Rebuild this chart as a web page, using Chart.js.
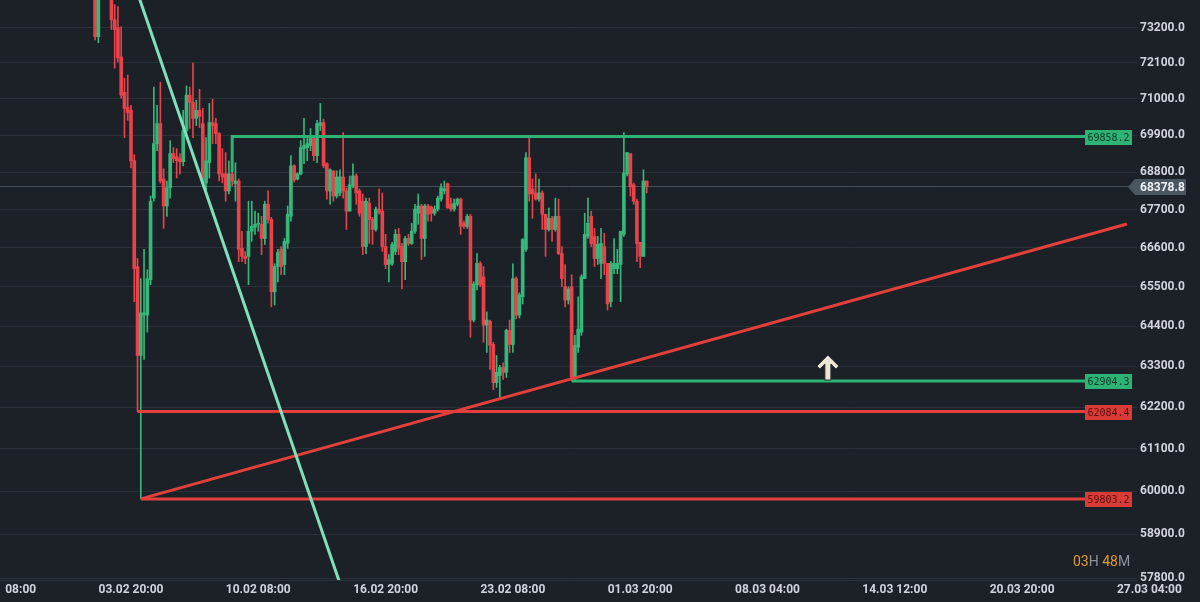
<!DOCTYPE html>
<html>
<head>
<meta charset="utf-8">
<script src="https://cdn.jsdelivr.net/npm/chart.js@4.4.1/dist/chart.umd.min.js"></script>
<style>
  html, body { margin: 0; padding: 0; background: #1b2126; }
  #wrap { width: 1200px; height: 602px; }
</style>
</head>
<body>
<div id="wrap"><canvas id="chart" width="1200" height="602"></canvas></div>
<script>
// === Datos: velas de 4h (índice 0 = 03.02 20:00) ===
const firstIndex = -11;

const opens = [
  74350, 72920, 74250, 74700, 74500, 74350, 73450, 73200, 72290, 71200,
  70740, 70650, 69140, 66070, 63600, 64710, 64710, 65700, 68040, 69650,
  70250, 68600, 67810, 68340, 69350, 69260, 69200, 69110, 70040, 71110,
  70890, 70410, 70650, 70250, 68480, 69080, 70280, 70250, 69950, 68750,
  68750, 68250, 68750, 68460, 68540, 66590, 66360, 66360, 67080, 67190,
  67280, 67280, 66870, 67860, 67420, 65360, 66070, 66560, 66130, 66730,
  67510, 68990, 68600, 68750, 69500, 69530, 69590, 69800, 69290, 70190,
  70280, 69050, 68250, 68840, 68100, 68190, 68660, 68250, 67660, 68400,
  68690, 68250, 67950, 66640, 67890, 67420, 67130, 67720, 67660, 66640,
  66130, 66160, 66500, 66990, 66640, 66210, 66870, 66730, 67080, 67600,
  67810, 66870, 67810, 67780, 67600, 67720, 68010, 68250, 68460, 67860,
  67720, 67860, 68010, 67310, 67220, 67510, 64570, 65550, 66160, 65780,
  64430, 64540, 63900, 62860, 63050, 63270, 63140, 64290, 63900, 65730,
  64710, 65220, 66560, 69230, 68310, 68190, 68010, 68190, 67570, 67130,
  67450, 67130, 67510, 66440, 65500, 65130, 65500, 63000, 63820, 64240,
  65730, 66930, 67510, 66930, 66300, 66160, 66640, 66160, 65080, 66010,
  66010, 66130, 66990, 68750, 69350, 68430, 67950, 66760, 66360, 68540
];
const highs = [
  74570, 74480, 74900, 75000, 74800, 74410, 73930, 73870, 73230, 71630,
  71730, 70800, 69320, 66300, 65730, 66560, 65980, 68100, 71360, 70800,
  71510, 68900, 68540, 69740, 69530, 69500, 69350, 70650, 71390, 71360,
  72100, 70960, 71290, 70710, 69830, 70860, 70990, 70410, 69980, 69500,
  69380, 69140, 68990, 69080, 68600, 67080, 66500, 67950, 67950, 67660,
  67600, 67510, 67950, 68250, 67480, 66150, 66560, 66640, 66870, 67810,
  69290, 69020, 68780, 69740, 70410, 69830, 70100, 69830, 70350, 70860,
  70380, 69080, 68900, 68840, 68840, 68870, 69980, 68340, 68690, 69050,
  68750, 68310, 68160, 68040, 68040, 67480, 67780, 68310, 68190, 66990,
  66410, 66760, 67130, 67160, 66730, 66930, 66990, 67310, 67860, 68160,
  67860, 67860, 67860, 67810, 67810, 68100, 68460, 68540, 68480, 68040,
  68010, 68040, 68040, 67370, 67570, 67570, 65640, 66440, 66210, 66070,
  64800, 64570, 63960, 63600, 63330, 63400, 64320, 64570, 66150, 65780,
  65330, 66870, 69380, 69890, 68600, 68750, 68600, 68250, 67570, 67750,
  67510, 68040, 68010, 66640, 66130, 65500, 65840, 64150, 65220, 65840,
  67600, 68040, 67660, 67160, 66930, 67160, 67020, 66160, 66210, 66870,
  66560, 67080, 69980, 69380, 69350, 68480, 68010, 66760, 68870, 68540
];
const lows = [
  72820, 72730, 74100, 74300, 74200, 73140, 71940, 72130, 71020, 69830,
  70350, 68930, 65080, 62084.4, 59803.2, 63490, 64240, 65560, 67950, 69440,
  68480, 67160, 67510, 68040, 69080, 68630, 68750, 68990, 70010, 70100,
  69830, 70190, 70130, 68450, 68190, 68630, 69650, 69650, 68540, 68480,
  67950, 68160, 68400, 67950, 66210, 66210, 66150, 65560, 66790, 66990,
  67080, 66410, 66700, 67310, 64940, 64990, 65640, 65840, 65840, 66590,
  67370, 68510, 68570, 68720, 69050, 69140, 69440, 69140, 69080, 70040,
  68930, 68010, 67860, 67950, 68040, 68100, 68040, 67130, 67660, 68340,
  67860, 67510, 66410, 66440, 66730, 66700, 67080, 67570, 66500, 66010,
  65640, 66100, 66410, 66410, 65440, 65700, 66670, 66700, 67020, 67280,
  66270, 66360, 67370, 67370, 67540, 67660, 67950, 68160, 67750, 67660,
  67660, 67810, 66990, 67160, 67160, 64100, 64520, 65410, 65500, 63960,
  63680, 63220, 62670, 62730, 62430, 62950, 63000, 63680, 63680, 64600,
  64630, 65020, 66500, 67950, 67450, 67980, 67950, 67130, 66360, 67080,
  66790, 67080, 66410, 65500, 64940, 65020, 62904.3, 62920, 63680, 64150,
  65730, 66870, 66640, 66070, 66130, 65730, 65840, 64850, 64940, 65870,
  65870, 65080, 66930, 68690, 68100, 67860, 66210, 66040, 66360, 68190
];
const closes = [
  72920, 74250, 74700, 74500, 74350, 73450, 73140, 72260, 71110, 70710,
  70590, 69140, 66010, 63600, 64770, 64770, 65730, 67950, 69650, 70250,
  68540, 67810, 68340, 69350, 69200, 69140, 69110, 70040, 71110, 70890,
  70410, 70650, 70470, 68480, 69140, 70280, 70190, 69950, 68750, 68660,
  68250, 68750, 68540, 68540, 66560, 66360, 66300, 67080, 67220, 67280,
  67300, 66870, 67860, 67420, 65360, 66070, 66470, 66070, 66790, 67570,
  68990, 68570, 68750, 69530, 69590, 69650, 69830, 69290, 70250, 70280,
  68990, 68250, 68870, 68100, 68660, 68660, 68250, 67660, 68430, 68690,
  68190, 67600, 66640, 67950, 67420, 67130, 67720, 67630, 66640, 66130,
  66270, 66700, 66990, 66590, 66210, 66870, 66730, 67080, 67720, 67810,
  66870, 67810, 67570, 67600, 67720, 68040, 68340, 68310, 67750, 67720,
  67890, 68010, 67220, 67220, 67510, 64570, 65580, 66160, 65550, 64430,
  64570, 63880, 62860, 63140, 63270, 63140, 64290, 63900, 65730, 64710,
  65270, 66840, 69230, 68160, 68160, 68010, 68190, 67570, 67130, 67450,
  67130, 67510, 66440, 65730, 65130, 65440, 63000, 63880, 64320, 65780,
  66990, 67310, 66730, 66300, 66700, 66730, 66160, 65020, 66160, 66160,
  66160, 67080, 68780, 69380, 68370, 67950, 66730, 66360, 68540, 68378.8
];

// ejes
const yTicks = [57800, 58900, 60000, 61100, 62200, 63300, 64400, 65500, 66600, 67700, 68800, 69900, 71000, 72100, 73200];
const xTickIndex = [-39, 0, 39, 78, 117, 156, 195, 234, 273, 312];
const xTickLabels = ['28.01 08:00', '03.02 20:00', '10.02 08:00', '16.02 20:00', '23.02 08:00',
                     '01.03 20:00', '08.03 04:00', '14.03 12:00', '20.03 20:00', '27.03 04:00'];

// dibujos (índice de vela, precio)
const resistancePath = [[31, 68800], [31, 69858.2], [292.3, 69858.2]];
const supportPath = [[135, 62904.3], [292.3, 62904.3]];
const redLevel1 = [[2, 62084.4], [292.3, 62084.4]];
const redLevel2 = [[3, 59803.2], [292.3, 59803.2]];
const redTrend = [[3, 59803.2], [305.1, 67288]];
const mintTrend = [[-0.4, 75034], [66.8, 57019]];
const tagPrices = [69858.2, 62904.3, 62084.4, 59803.2];
const tagKinds = ['up', 'up', 'down', 'down'];
const lastPrice = 68378.8;
const arrowAt = [213.5, 62904.3];
const countdown = [['03', 'num'], ['H', 'unit'], [' 48', 'num'], ['M', 'unit']];

// === estilos ===
const BG = '#1b2126';
const UP = '#37b77b';
const DOWN = '#e8434a';
const LABEL = '#d1d4dc';

const idx = opens.map((_, k) => firstIndex + k);
const colors = opens.map((o, k) => closes[k] >= o ? UP : DOWN);
const pts = arr => arr.map(([x, y]) => ({ x, y }));

function lineDs(path, color, width, order) {
  return { type: 'line', data: pts(path), borderColor: color, borderWidth: width,
           pointRadius: 0, fill: false, tension: 0, order };
}

const bgPlugin = {
  id: 'bg',
  beforeDraw(chart) {
    const c = chart.ctx;
    c.save();
    c.fillStyle = BG;
    c.fillRect(0, 0, chart.width, chart.height);
    c.restore();
  }
};

const overlayPlugin = {
  id: 'overlay',
  afterDatasetsDraw(chart) {
    const { ctx, chartArea, scales: { x, y } } = chart;
    const right = chartArea.right;
    ctx.save();

    // etiquetas de niveles
    ctx.font = '10px "DejaVu Sans Mono"';
    ctx.textAlign = 'center';
    ctx.textBaseline = 'middle';
    tagPrices.forEach((p, k) => {
      const py = Math.round(y.getPixelForValue(p));
      ctx.fillStyle = tagKinds[k] === 'up' ? '#2eb377' : '#d93c37';
      ctx.fillRect(right - 52, py - 7, 47, 15);
      ctx.fillStyle = tagKinds[k] === 'up' ? '#0b3a24' : '#5c0e0c';
      ctx.fillText(p.toFixed(1), right - 28.5, py + 1);
    });

    // precio actual
    const cy = Math.round(y.getPixelForValue(lastPrice));
    ctx.fillStyle = '#4b5661';
    ctx.beginPath();
    ctx.moveTo(right - 9, cy);
    ctx.lineTo(right - 2, cy - 8);
    ctx.lineTo(right + 49, cy - 8);
    ctx.lineTo(right + 49, cy + 8);
    ctx.lineTo(right - 2, cy + 8);
    ctx.closePath();
    ctx.fill();
    ctx.fillStyle = '#eef0f2';
    ctx.font = 'bold 12px Roboto';
    ctx.textAlign = 'left';
    ctx.fillText(lastPrice.toFixed(1), right + 3, cy + 1);

    // flecha
    const ax = x.getPixelForValue(arrowAt[0]);
    const ab = y.getPixelForValue(arrowAt[1]) - 1;
    const t = ab - 25;
    ctx.beginPath();
    ctx.moveTo(ax, t);
    ctx.lineTo(ax + 11, t + 11);
    ctx.lineTo(ax + 8, t + 14);
    ctx.lineTo(ax + 3, t + 9);
    ctx.lineTo(ax + 3, ab);
    ctx.lineTo(ax - 3, ab);
    ctx.lineTo(ax - 3, t + 9);
    ctx.lineTo(ax - 8, t + 14);
    ctx.lineTo(ax - 11, t + 11);
    ctx.closePath();
    ctx.fillStyle = '#ede6d4';
    ctx.strokeStyle = '#2b2b2b';
    ctx.lineWidth = 1;
    ctx.fill();
    ctx.stroke();

    // cuenta atrás
    ctx.font = '14px Roboto';
    ctx.textBaseline = 'alphabetic';
    let tx = right - 64;
    countdown.forEach(([txt, kind]) => {
      ctx.fillStyle = kind === 'num' ? '#e39b2e' : '#8d949b';
      ctx.fillText(txt, tx, chartArea.bottom - 14);
      tx += ctx.measureText(txt).width;
    });
    ctx.restore();
  }
};

new Chart(document.getElementById('chart'), {
  type: 'bar',
  data: {
    datasets: [
      lineDs(mintTrend, '#80e0bb', 3, 0),
      lineDs(redTrend, '#e3403c', 3, 0),
      lineDs(redLevel1, '#e3403c', 3, 0),
      lineDs(redLevel2, '#e3403c', 3, 0),
      lineDs(resistancePath, '#2fb374', 3, 0),
      lineDs(supportPath, '#2fb374', 3, 0),
      {
        type: 'bar',
        data: idx.map((i, k) => ({ x: i, y: [opens[k], closes[k]] })),
        backgroundColor: colors, barThickness: 3, grouped: false, minBarLength: 1, order: 2
      },
      {
        type: 'bar',
        data: idx.map((i, k) => ({ x: i, y: [lows[k], highs[k]] })),
        backgroundColor: colors, barThickness: 1, grouped: false, order: 3
      },
      lineDs([[-45, lastPrice], [320, lastPrice]], '#46505a', 1, 4)
    ]
  },
  options: {
    responsive: false,
    animation: false,
    devicePixelRatio: 1,
    layout: { padding: 0 },
    plugins: { legend: { display: false }, tooltip: { enabled: false } },
    scales: {
      x: {
        type: 'linear',
        min: -40.13,
        max: 308.2,
        bounds: 'data',
        offset: false,
        grid: { display: false, drawTicks: false },
        border: { display: true, color: '#2c343b' },
        ticks: {
          autoSkip: false, maxRotation: 0, minRotation: 0, padding: 3,
          color: LABEL, font: { family: 'Roboto', size: 12, weight: 'bold' },
          callback: (v, i) => xTickLabels[i]
        },
        afterBuildTicks: s => { s.ticks = xTickIndex.map(v => ({ value: v })); },
        afterFit: s => { s.height = 22; s.paddingLeft = 0; s.paddingRight = 0; }
      },
      y: {
        type: 'logarithmic',
        position: 'right',
        min: 57758,
        max: 74075,
        bounds: 'data',
        grid: { color: '#2a3138', drawTicks: false },
        border: { display: false },
        ticks: {
          padding: 3, color: LABEL,
          font: { family: 'Roboto', size: 12, weight: 'bold' },
          callback: v => Number(v).toFixed(1)
        },
        afterBuildTicks: s => { s.ticks = yTicks.map(v => ({ value: v })); },
        afterFit: s => { s.width = 63; s.paddingTop = 0; s.paddingBottom = 0; }
      }
    }
  },
  plugins: [bgPlugin, overlayPlugin]
});
</script>
</body>
</html>
